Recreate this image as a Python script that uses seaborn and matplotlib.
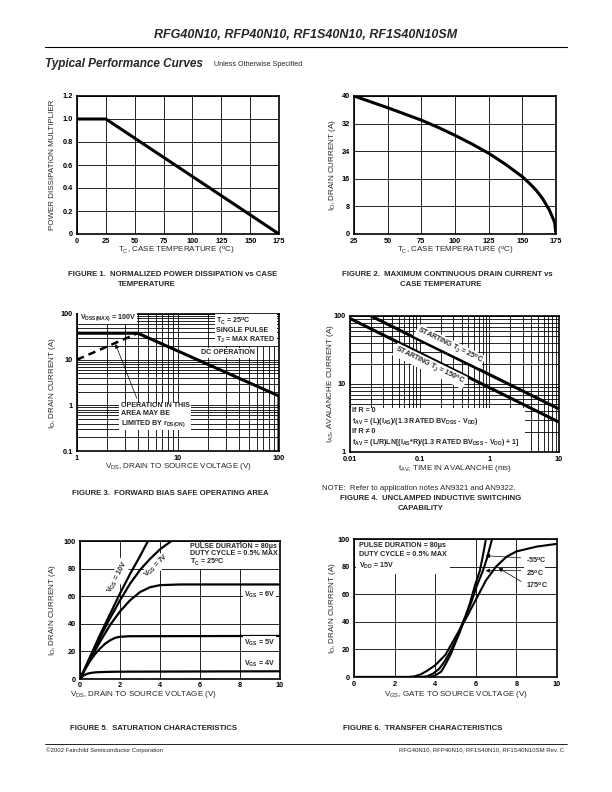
import numpy as np
import pandas as pd
import seaborn as sns
import matplotlib
matplotlib.use("Agg")
import matplotlib.pyplot as plt
from matplotlib.patches import Rectangle
from matplotlib.ticker import LogLocator, NullFormatter

sns.set_theme(style="white")
plt.rcParams['font.family'] = ['Liberation Sans Narrow', 'Liberation Sans', 'DejaVu Sans']
plt.rcParams['mathtext.default'] = 'regular'

# ---- data ----
# Fig 1 normalized power dissipation
pd_temp = [0, 25, 175]
pd_mult = [1.0, 1.0, 0.0]

# Fig 2 max continuous drain current
id_temp = [25, 37.5, 50, 62.5, 75, 87.5, 100, 112.5, 125, 137.5, 150, 155, 160, 165, 170, 173, 174, 175]
id_curr = [40, 38.3, 36.6, 34.8, 33.0, 30.9, 28.6, 26.1, 23.4, 20.2, 16.6, 14.8, 12.8, 10.3, 7.0, 4.3, 3.3, 0]

# Fig 3 forward bias SOA
soa_v = [1, 4, 100, 100]
soa_i = [38, 38, 1.6, 0.1]
rds_v = [1, 4]
rds_i = [10, 38]

# Fig 4 unclamped inductive switching
uis25_t = [0.02, 10]
uis25_i = [100, 4.3]
uis150_t = [0.01, 10]
uis150_i = [92, 2.75]

# Fig 5 saturation characteristics
sat10_v = [0, 0.5, 1.0, 1.5, 2.0, 2.5, 3.0, 3.4]
sat10_i = [0, 16, 32, 47, 62, 76, 89, 100]
sat7_v = [0, 0.5, 1.0, 1.5, 2.0, 2.5, 3.0, 3.5, 4.0, 4.57]
sat7_i = [0, 15, 30, 44, 57, 69, 79, 87, 94, 100]
sat6_v = [0, 0.5, 1.0, 1.5, 2.0, 2.5, 3.0, 3.5, 4.0, 5, 10]
sat6_i = [0, 14, 27, 39, 49, 57, 63, 66.5, 68, 68.5, 68.5]
sat5_v = [0, 0.25, 0.5, 0.75, 1.0, 1.25, 1.5, 1.75, 2.0, 2.5, 10]
sat5_i = [0, 7, 13, 18, 22, 25.5, 28, 29.8, 30.6, 31, 31.2]
sat4_v = [0, 0.1, 0.2, 0.35, 0.5, 0.75, 1.0, 1.5, 2.0, 10]
sat4_i = [0, 1.5, 2.7, 3.7, 4.3, 4.8, 5.0, 5.2, 5.3, 5.6]

# Fig 6 transfer characteristics
tr_m55_v = [0, 3.6, 3.9, 4.1, 4.3, 4.5, 4.75, 5.0, 5.2, 5.45, 5.7, 5.95, 6.2, 6.35, 6.5]
tr_m55_i = [0, 0, 0.5, 2, 4, 9, 16, 25, 32, 42, 53, 66, 77, 88, 100]
tr_25_v = [0, 3.3, 3.6, 3.9, 4.2, 4.45, 4.65, 4.9, 5.15, 5.4, 5.75, 6.05, 6.35, 6.55, 6.8]
tr_25_i = [0, 0, 0.5, 2.5, 6, 11, 16, 23, 32, 41, 53, 66, 77, 86, 100]
tr_175_v = [0, 2.7, 3.0, 3.3, 3.6, 4.0, 4.5, 5.0, 5.5, 6.0, 6.5, 7.0, 7.5, 8.0, 9.0, 10]
tr_175_i = [0, 0, 0.5, 2, 4.5, 8.5, 16, 29, 42, 56, 70, 80, 87, 91, 94.5, 96.5]

# ---- page layout in pixels ----
W, H = 612, 792
fig = plt.figure(figsize=(W / 100, H / 100), dpi=100)

def add_ax(l, t, r, b):
    return fig.add_axes([l / W, 1 - b / H, (r - l) / W, (b - t) / H])

def ftext(x, y, s, **kw):
    return fig.text(x / W, 1 - y / H, s, **kw)

TICK = dict(fontsize=5.3, fontweight='bold')
LAB = dict(fontsize=5.8)
CAP = dict(fontsize=5.6, fontweight='bold', va='center', ha='left')
INK = dict(fontsize=5.1, fontweight='bold')
WBOX = dict(facecolor='white', edgecolor='none', pad=0.8)

def frame(ax, log=False):
    for sp in ax.spines.values():
        sp.set_visible(True)
        sp.set_linewidth(1.2)
        sp.set_color('black')
    ax.tick_params(which='both', length=0, pad=3, colors='black')
    ax.grid(True, which='both' if log else 'major', color='black', linewidth=0.6)
    ax.set_xlabel('')
    ax.set_ylabel('')

def curve(ax, x, y, lw=1.6, ls='-'):
    sns.lineplot(x=x, y=y, ax=ax, color='black', lw=lw, linestyle=ls,
                 estimator=None, sort=False, zorder=2)

# header and footer
ftext(306, 35, 'RFG40N10, RFP40N10, RF1S40N10, RF1S40N10SM', fontsize=9,
      fontweight='bold', style='italic', ha='center', va='center')
fig.add_artist(plt.Line2D([45 / W, 567 / W], [1 - 47 / H, 1 - 47 / H], color='black', lw=0.8))
ftext(45, 64, 'Typical Performance Curves', fontsize=8.5, fontweight='bold',
      style='italic', ha='left', va='center')
ftext(214, 65, 'Unless Otherwise Specified', fontsize=5.2, ha='left', va='center')
fig.add_artist(plt.Line2D([45 / W, 567 / W], [1 - 744 / H, 1 - 744 / H], color='black', lw=0.6))
ftext(46, 750, '\u00a92002 Fairchild Semiconductor Corporation', fontsize=4.3, ha='left', va='center')
ftext(564, 750, 'RFG40N10, RFP40N10, RF1S40N10, RF1S40N10SM Rev. C', fontsize=4.3,
      ha='right', va='center')

# ---- Figure 1 ----
ax1 = add_ax(77, 96, 279, 234)
curve(ax1, pd_temp, pd_mult, lw=2.2)
ax1.set_xlim(0, 175)
ax1.set_ylim(0, 1.2)
ax1.set_xticks(range(0, 176, 25), [str(v) for v in range(0, 176, 25)], **TICK)
ax1.set_yticks([0, 0.2, 0.4, 0.6, 0.8, 1.0, 1.2],
               ['0', '0.2', '0.4', '0.6', '0.8', '1.0', '1.2'], **TICK)
frame(ax1)
ftext(176, 251.5, 'T$_C$, CASE TEMPERATURE ($^o$C)', ha='center', va='center', **LAB)
ftext(53, 165, 'POWER DISSIPATION MULTIPLIER', rotation=90, ha='center', va='center', **LAB)
ftext(68, 274, 'FIGURE 1.  NORMALIZED POWER DISSIPATION vs CASE', **CAP)
ftext(118, 284, 'TEMPERATURE', **CAP)

# ---- Figure 2 ----
ax2 = add_ax(354, 96, 556, 234)
curve(ax2, id_temp, id_curr, lw=2.2)
ax2.set_xlim(25, 175)
ax2.set_ylim(0, 40)
ax2.set_xticks(range(25, 176, 25), [str(v) for v in range(25, 176, 25)], **TICK)
ax2.set_yticks(range(0, 41, 8), [str(v) for v in range(0, 41, 8)], **TICK)
frame(ax2)
ftext(455, 251.5, 'T$_C$, CASE TEMPERATURE ($^o$C)', ha='center', va='center', **LAB)
ftext(332, 165, 'I$_D$, DRAIN CURRENT (A)', rotation=90, ha='center', va='center', **LAB)
ftext(342, 274, 'FIGURE 2.  MAXIMUM CONTINUOUS DRAIN CURRENT vs', **CAP)
ftext(400, 284, 'CASE TEMPERATURE', **CAP)

# ---- Figure 3 ----
ax3 = add_ax(77, 314, 279, 451)
ax3.set_xscale('log')
ax3.set_yscale('log')
curve(ax3, soa_v, soa_i, lw=2.2)
curve(ax3, rds_v, rds_i, lw=1.8, ls=(0, (3, 2)))
ax3.set_xlim(1, 100)
ax3.set_ylim(0.1, 100)
ax3.set_xticks([1, 10, 100], ['1', '10', '100'], **TICK)
ax3.set_yticks([0.1, 1, 10, 100], ['0.1', '1', '10', '100'], **TICK)
for a in (ax3.xaxis, ax3.yaxis):
    a.set_minor_locator(LogLocator(base=10, subs=np.arange(2, 10)))
    a.set_minor_formatter(NullFormatter())
frame(ax3, log=True)
ax3.text(1.06, 85, 'V$_{DSS(MAX)}$ = 100V', ha='left', va='center', bbox=WBOX, zorder=3, **INK)
ax3.text(24, 92, 'T$_C$ = 25$^o$C\nSINGLE PULSE\nT$_J$ = MAX RATED', ha='left', va='top',
         linespacing=1.05, bbox=WBOX, zorder=3, **INK)
ax3.text(17, 14, 'DC OPERATION', ha='left', va='center', bbox=WBOX, zorder=3, **INK)
ax3.text(2.7, 0.6, 'OPERATION IN THIS\nAREA MAY BE\nLIMITED BY r$_{DS(ON)}$', ha='left',
         va='center', linespacing=1.15, bbox=WBOX, zorder=3, **INK)
ax3.annotate('', xy=(2.35, 25), xytext=(4.0, 1.25),
             arrowprops=dict(arrowstyle='-|>', lw=0.5, color='black', mutation_scale=6), zorder=3)
ftext(178, 467, 'V$_{DS}$, DRAIN TO SOURCE VOLTAGE (V)', ha='center', va='center', **LAB)
ftext(52, 383, 'I$_D$, DRAIN CURRENT (A)', rotation=90, ha='center', va='center', **LAB)
ftext(72, 493, 'FIGURE 3.  FORWARD BIAS SAFE OPERATING AREA', **CAP)

# ---- Figure 4 ----
ax4 = add_ax(350, 316, 559, 452)
ax4.set_xscale('log')
ax4.set_yscale('log')
curve(ax4, uis25_t, uis25_i, lw=2.2)
curve(ax4, uis150_t, uis150_i, lw=2.2)
ax4.set_xlim(0.01, 10)
ax4.set_ylim(1, 100)
ax4.set_xticks([0.01, 0.1, 1, 10], ['0.01', '0.1', '1', '10'], **TICK)
ax4.set_yticks([1, 10, 100], ['1', '10', '100'], **TICK)
for a in (ax4.xaxis, ax4.yaxis):
    a.set_minor_locator(LogLocator(base=10, subs=np.arange(2, 10)))
    a.set_minor_formatter(NullFormatter())
frame(ax4, log=True)
ax4.add_patch(Rectangle((0.0101, 1.01), 3.2, 3.5, facecolor='white', edgecolor='none', zorder=1.6))
ax4.text(0.0107, 2.3, 'If R = 0\nt$_{AV}$ = (L)(I$_{AS}$)/(1.3 RATED BV$_{DSS}$ - V$_{DD}$)\n'
         'If R \u2260 0\nt$_{AV}$ = (L/R)LN[(I$_{AS}$*R)/(1.3 RATED BV$_{DSS}$ - V$_{DD}$) + 1]',
         ha='left', va='center', linespacing=1.3, zorder=3, **INK)
ax4.text(0.27, 36, 'STARTING T$_J$ = 25$^o$C', rotation=-26, ha='center', va='center',
         bbox=WBOX, zorder=3, **INK)
ax4.text(0.14, 18.4, 'STARTING T$_J$ = 150$^o$C', rotation=-26, ha='center', va='center',
         bbox=WBOX, zorder=3, **INK)
ftext(455, 469, 't$_{AV}$, TIME IN AVALANCHE (ms)', ha='center', va='center', **LAB)
ftext(330, 384, 'I$_{AS}$, AVALANCHE CURRENT (A)', rotation=90, ha='center', va='center', **LAB)
ftext(322, 488, 'NOTE:  Refer to application notes AN9321 and AN9322.', fontsize=5.6,
      ha='left', va='center')
ftext(340, 498.5, 'FIGURE 4.  UNCLAMPED INDUCTIVE SWITCHING', **CAP)
ftext(398, 508, 'CAPABILITY', **CAP)

# ---- Figure 5 ----
ax5 = add_ax(80, 541, 280, 679)
for vx, iy in [(sat10_v, sat10_i), (sat7_v, sat7_i), (sat6_v, sat6_i),
               (sat5_v, sat5_i), (sat4_v, sat4_i)]:
    curve(ax5, vx, iy, lw=1.6)
ax5.set_xlim(0, 10)
ax5.set_ylim(0, 100)
ax5.set_xticks(range(0, 11, 2), [str(v) for v in range(0, 11, 2)], **TICK)
ax5.set_yticks(range(0, 101, 20), [str(v) for v in range(0, 101, 20)], **TICK)
frame(ax5)
ax5.tick_params(axis='x', pad=2)
ax5.text(5.5, 98.5, 'PULSE DURATION = 80\u00b5s\nDUTY CYCLE = 0.5% MAX\nT$_C$ = 25$^o$C',
         ha='left', va='top', linespacing=1.0, bbox=WBOX, zorder=3, **INK)
ax5.text(1.87, 74, 'V$_{GS}$ = 10V', rotation=62, ha='center', va='center', bbox=WBOX, zorder=3, **INK)
ax5.text(3.83, 82, 'V$_{GS}$ = 7V', rotation=44, ha='center', va='center', bbox=WBOX, zorder=3, **INK)
ax5.text(8.2, 61, 'V$_{GS}$ = 6V', ha='left', va='center', bbox=WBOX, zorder=3, **INK)
ax5.text(8.2, 26.5, 'V$_{GS}$ = 5V', ha='left', va='center', bbox=WBOX, zorder=3, **INK)
ax5.text(8.2, 11, 'V$_{GS}$ = 4V', ha='left', va='center', bbox=WBOX, zorder=3, **INK)
ftext(143, 695, 'V$_{DS}$, DRAIN TO SOURCE VOLTAGE (V)', ha='center', va='center', **LAB)
ftext(52, 610, 'I$_D$, DRAIN CURRENT (A)', rotation=90, ha='center', va='center', **LAB)
ftext(70, 729, 'FIGURE 5.  SATURATION CHARACTERISTICS', **CAP)

# ---- Figure 6 ----
ax6 = add_ax(354, 539, 557, 677)
curve(ax6, tr_m55_v, tr_m55_i, lw=1.5)
curve(ax6, tr_25_v, tr_25_i, lw=1.5)
curve(ax6, tr_175_v, tr_175_i, lw=1.5)
ax6.set_xlim(0, 10)
ax6.set_ylim(0, 100)
ax6.set_xticks(range(0, 11, 2), [str(v) for v in range(0, 11, 2)], **TICK)
ax6.set_yticks(range(0, 101, 20), [str(v) for v in range(0, 101, 20)], **TICK)
frame(ax6)
ax6.text(0.25, 98, 'PULSE DURATION = 80\u00b5s\nDUTY CYCLE = 0.5% MAX\nV$_{DD}$ = 15V',
         ha='left', va='top', linespacing=1.4, bbox=dict(facecolor='white', edgecolor='none', pad=2),
         zorder=3, **INK)
arrow = dict(arrowstyle='-|>', lw=0.5, color='black', mutation_scale=6)
for lab, ly, vx, iy, k in [('-55$^o$C', 84.7, tr_m55_v, tr_m55_i, 13),
                           ('25$^o$C', 75.7, tr_25_v, tr_25_i, 12),
                           ('175$^o$C', 66.7, tr_175_v, tr_175_i, 11)]:
    ax6.text(8.45, ly, lab, ha='left', va='center', bbox=WBOX, zorder=3, **INK)
    ax6.annotate('', xy=(vx[k], iy[k]), xytext=(8.35, ly + 1.5), arrowprops=arrow, zorder=3)
ftext(456, 694, 'V$_{GS}$, GATE TO SOURCE VOLTAGE (V)', ha='center', va='center', **LAB)
ftext(332, 608, 'I$_D$, DRAIN CURRENT (A)', rotation=90, ha='center', va='center', **LAB)
ftext(343, 729, 'FIGURE 6.  TRANSFER CHARACTERISTICS', **CAP)

fig.savefig('out.png', dpi=100, facecolor='white')
